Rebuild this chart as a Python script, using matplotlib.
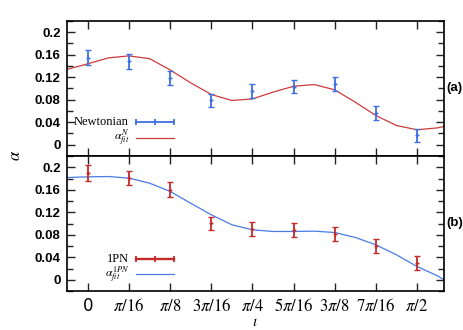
import numpy as np
import matplotlib
matplotlib.use("Agg")
import matplotlib.pyplot as plt
from matplotlib.ticker import MultipleLocator

plt.rcParams['mathtext.fontset'] = 'stix'

PI = np.pi
# data positions (in units of pi/16)
x_units = [0, 1, 2, 3, 4, 5, 6, 7, 8]
tick_labels = ['0', r'$\pi/16$', r'$\pi/8$', r'$3\pi/16$', r'$\pi/4$',
               r'$5\pi/16$', r'$3\pi/8$', r'$7\pi/16$', r'$\pi/2$']

newt_y = [0.155, 0.1485, 0.119, 0.0787, 0.095, 0.1035, 0.108, 0.056, 0.0165]
newt_err = [0.014, 0.013, 0.0125, 0.012, 0.0125, 0.012, 0.012, 0.012, 0.011]

pn_y = [0.1895, 0.181, 0.16, 0.1005, 0.090, 0.089, 0.081, 0.0604, 0.0296]
pn_err = [0.014, 0.0125, 0.013, 0.0115, 0.0125, 0.0125, 0.0125, 0.0125, 0.012]

# fit curves, x in units of pi/32 (plus plot edges)
fit_x32 = [-1.02, 0, 1, 2, 3, 4, 5, 6, 7, 8, 9, 10, 11, 12, 13, 14, 15, 16, 17, 17.32]
fitN_y = [0.134, 0.144, 0.1545, 0.158, 0.153, 0.133, 0.110, 0.0893, 0.0787, 0.0815,
          0.0935, 0.104, 0.107, 0.0977, 0.0757, 0.052, 0.0343, 0.0266, 0.030, 0.0325]
fitPN_y = [0.1817, 0.183, 0.1835, 0.1806, 0.1717, 0.157, 0.136, 0.1155, 0.0977, 0.0888,
           0.0858, 0.0858, 0.0864, 0.084, 0.0752, 0.0622, 0.0444, 0.0237, 0.007, 0.0]

labels_top = ['Newtonian', r'$\alpha^{N}_{fit}$']
labels_bot = ['1PN', r'$\alpha^{1PN}_{fit}$']

BLUE = '#3f6fe0'
RED = '#c42a2a'
FIT_RED = '#cc3b3b'
FIT_BLUE = '#4a7ce6'

xs = np.array(x_units) * PI / 16
fx = np.array(fit_x32) * PI / 32

fig = plt.figure(figsize=(4.64, 3.30), dpi=100)
W, H = 464, 330
left, right = 67 / W, 444 / W
ax1 = fig.add_axes([left, 1 - 156 / H, right - left, (156 - 21) / H])
ax2 = fig.add_axes([left, 1 - 291 / H, right - left, (291 - 156) / H])

tick_font = dict(family='Liberation Sans', weight='bold', size=9.5)


def style(ax, show_xlabels):
    ax.set_xlim(-0.1, 1.7)
    ax.set_ylim(-0.02, 0.22)
    ax.set_xticks(xs)
    if show_xlabels:
        ax.set_xticklabels(tick_labels, fontsize=12)
    else:
        ax.set_xticklabels([])
    ax.set_yticks([0, 0.04, 0.08, 0.12, 0.16, 0.2])
    ax.set_yticklabels(['0', '0.04', '0.08', '0.12', '0.16', '0.2'], **tick_font)
    ax.yaxis.set_minor_locator(MultipleLocator(0.02))
    ax.tick_params(axis='both', which='both', direction='in', top=True, right=True,
                   width=1.0, color='#222222')
    ax.tick_params(axis='both', which='major', length=5.5, pad=4.5)
    ax.tick_params(axis='y', which='minor', length=4)
    for s in ax.spines.values():
        s.set_linewidth(1.2)


def legend(ax, labels, err_color, fit_color, rows, err_lw):
    # manual gnuplot-style key: text right-aligned, sample to its right
    tx, x0, x1 = 0.1645, 0.182, 0.284
    tr = ax.transAxes
    ax.text(tx, rows[0], labels[0], transform=tr, ha='right', va='center',
            family='Liberation Serif', fontsize=9)
    ax.text(tx, rows[1], labels[1], transform=tr, ha='right', va='center', fontsize=8.5)
    ax.plot([x0, (x0 + x1) / 2, x1], [rows[0]] * 3, transform=tr, color=err_color,
            lw=err_lw, marker='|', ms=5, mew=1.3, clip_on=False)
    ax.plot([x0, x1], [rows[1]] * 2, transform=tr, color=fit_color, lw=0.9,
            clip_on=False)


style(ax1, False)
style(ax2, True)

# top panel
ax1.plot(fx, fitN_y, color=FIT_RED, lw=0.9, zorder=2)
ax1.errorbar(xs, newt_y, yerr=newt_err, fmt='+', color=BLUE, ms=3, mew=1.0,
             elinewidth=1.3, capsize=2.5, capthick=1.3, zorder=3)
legend(ax1, labels_top, BLUE, FIT_RED, (0.250, 0.135), 1.3)

# bottom panel
ax2.plot(fx, fitPN_y, color=FIT_BLUE, lw=0.9, zorder=2)
ax2.errorbar(xs, pn_y, yerr=pn_err, fmt='+', color=RED, ms=3, mew=1.0,
             elinewidth=1.3, capsize=2.5, capthick=1.3, zorder=3)
legend(ax2, labels_bot, RED, FIT_BLUE, (0.240, 0.125), 1.7)

fig.text(255 / W, 1 - 322 / H, r'$\iota$', ha='center', va='center', fontsize=11)
fig.text(15 / W, 1 - 155 / H, r'$\alpha$', ha='center', va='center', fontsize=12,
         rotation=90)
fig.text(446 / W, 1 - 88 / H, '(a)', ha='left', va='center', **tick_font)
fig.text(446 / W, 1 - 223 / H, '(b)', ha='left', va='center', **tick_font)

fig.savefig('out.png', dpi=100)
